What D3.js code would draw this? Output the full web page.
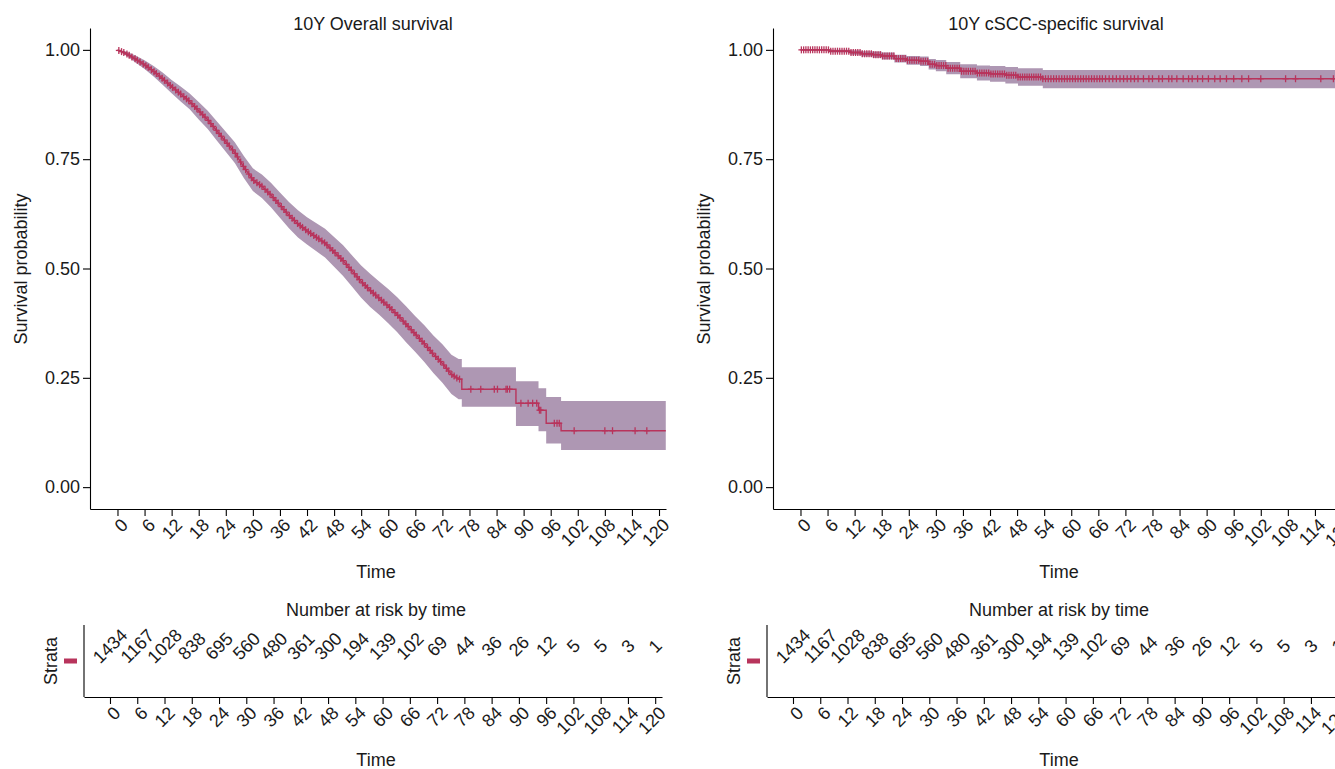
<!DOCTYPE html>
<html><head><meta charset="utf-8">
<script src="https://cdn.jsdelivr.net/npm/d3@7"></script>
<style>html,body{margin:0;padding:0;background:#fff;overflow:hidden}</style>
</head><body><svg id="c" width="1335" height="769"></svg>
<script>
// ---------- data ----------
const timeTicks = [0,6,12,18,24,30,36,42,48,54,60,66,72,78,84,90,96,102,108,114,120];
const yTicks = [0,0.25,0.5,0.75,1];
const riskN = [1434,1167,1028,838,695,560,480,361,300,194,139,102,69,44,36,26,12,5,5,3,1];

// Overall survival (piecewise readings; repeated times are vertical steps)
const osTime = [0,2,4,6,8,10,12,14,16,18,20,22,24,26,28,30,32,34,36,38,40,42,44,46,48,50,52,54,56,58,60,62,64,66,68,70,72,74,75.6,76.3,76.3,88.3,88.3,93.3,93.3,95.0,95.0,98.3,98.3,121.5];
const osSurv = [1.000,0.991,0.979,0.966,0.951,0.934,0.916,0.899,0.882,0.861,0.840,0.815,0.790,0.765,0.732,0.703,0.688,0.668,0.645,0.622,0.602,0.586,0.572,0.558,0.538,0.518,0.494,0.470,0.450,0.432,0.414,0.394,0.372,0.350,0.328,0.304,0.283,0.258,0.247,0.247,0.224,0.224,0.192,0.192,0.176,0.176,0.146,0.146,0.129,0.129];
const osUpper = [1.000,0.996,0.987,0.976,0.963,0.948,0.931,0.916,0.900,0.881,0.861,0.837,0.813,0.789,0.757,0.729,0.715,0.696,0.674,0.652,0.633,0.617,0.604,0.591,0.572,0.553,0.530,0.507,0.488,0.470,0.453,0.434,0.413,0.391,0.370,0.347,0.327,0.303,0.293,0.293,0.274,0.274,0.242,0.242,0.226,0.226,0.206,0.206,0.197,0.197];
const osLower = [1.000,0.986,0.971,0.956,0.939,0.920,0.901,0.882,0.864,0.841,0.819,0.793,0.767,0.741,0.707,0.677,0.661,0.640,0.616,0.592,0.571,0.555,0.540,0.525,0.504,0.483,0.458,0.433,0.412,0.394,0.375,0.354,0.331,0.309,0.286,0.261,0.239,0.213,0.201,0.201,0.184,0.184,0.140,0.140,0.128,0.128,0.100,0.100,0.085,0.085];
const osCensor = [0.3,0.9,1.4,2.1,2.6,3.2,3.9,4.4,5.0,5.7,6.3,6.8,7.5,8.1,8.6,9.3,9.9,10.4,11.1,11.7,12.2,12.9,13.5,14.0,14.7,15.3,15.8,16.5,17.1,17.6,18.3,18.9,19.4,20.1,20.7,21.2,21.9,22.5,23.0,23.7,24.3,24.8,25.5,26.1,26.6,27.3,27.9,28.4,29.1,29.7,30.2,30.9,31.5,32.0,32.7,33.3,33.8,34.5,35.1,35.6,36.3,36.9,37.4,38.1,38.7,39.2,39.9,40.5,41.0,41.7,42.3,42.8,43.5,44.1,44.6,45.3,45.9,46.4,47.1,47.7,48.2,48.9,49.5,50.0,50.7,51.3,51.8,52.5,53.1,53.6,54.3,54.9,55.4,56.1,56.7,57.2,57.9,58.5,59.0,59.7,60.3,60.8,61.5,62.1,62.6,63.3,63.9,64.4,65.1,65.7,66.2,66.9,67.5,68.0,68.7,69.3,69.8,70.5,71.1,71.6,72.3,72.9,73.4,74.1,74.6,75.2,75.8,78.3,80.5,83.5,84.2,86.1,86.4,86.9,89.4,91.0,92.0,92.9,93.5,93.8,96.8,97.4,97.9,101.2,108.0,109.7,114.7,117.3];

// cSCC-specific survival (step readings)
const cssTime = [0,6.3,11.0,13.5,16.0,18.0,20.8,23.5,26.5,28.4,30.0,32.3,35.4,39.1,42.0,45.4,48.2,53.7,121.5];
const cssSurv = [1.000,0.997,0.994,0.991,0.989,0.986,0.980,0.976,0.974,0.967,0.964,0.958,0.951,0.947,0.945,0.942,0.938,0.934,0.934];
const cssUpper = [1.000,1.000,0.999,0.997,0.996,0.994,0.989,0.986,0.985,0.979,0.977,0.972,0.967,0.964,0.963,0.961,0.958,0.954,0.954];
const cssLower = [1.000,0.994,0.989,0.985,0.982,0.978,0.971,0.966,0.963,0.955,0.951,0.944,0.935,0.930,0.927,0.923,0.918,0.912,0.912];
const cssCensor = [0.2,0.7,1.2,1.7,2.2,2.7,3.2,3.7,4.2,4.7,5.2,5.7,6.2,6.7,7.2,7.7,8.2,8.7,9.2,9.7,10.2,10.7,11.2,11.7,12.2,12.7,13.2,13.7,14.2,14.7,15.2,15.7,16.2,16.7,17.2,17.7,18.2,18.7,19.2,19.7,20.2,20.7,21.2,21.7,22.2,22.7,23.2,23.7,24.2,24.7,25.2,25.7,26.2,26.7,27.2,27.7,28.2,28.7,29.2,29.7,30.2,30.7,31.2,31.7,32.2,32.7,33.2,33.7,34.2,34.7,35.2,35.7,36.2,36.7,37.2,37.7,38.2,38.7,39.2,39.7,40.2,40.7,41.2,41.7,42.2,42.7,43.2,43.7,44.2,44.7,45.2,45.7,46.2,46.7,47.2,47.7,48.2,48.7,49.2,49.7,50.2,50.7,51.2,51.7,52.2,52.7,53.2,53.7,54.3,54.9,55.5,56.1,56.7,57.3,57.9,58.5,59.1,59.7,60.3,60.9,61.5,62.1,62.7,63.3,63.9,64.5,65.1,65.7,66.3,66.9,67.6,68.4,69.2,70.0,70.8,71.6,72.4,73.2,74.0,74.8,76.0,77.2,78.0,79.4,80.2,81.6,82.3,83.4,84.8,86.0,86.8,88.0,89.1,90.4,91.8,93.0,94.4,96.0,97.8,99.3,102.0,107.5,109.7,115.3,118.1];

// ---------- drawing ----------
const LINE = "#b8345c", BAND = "#ae97b3", TXT = "#1a1a1a";
const FONT = "'Liberation Sans', Arial, Helvetica, sans-serif";
const svg = d3.select("#c");

function valueAt(times, vals, t){
  // piecewise: last index with time<=t, linear to next if not a vertical step
  let i = d3.bisectRight(times, t) - 1;
  if (i < 0) return vals[0];
  if (i >= times.length - 1) return vals[times.length-1];
  const t0 = times[i], t1 = times[i+1];
  if (t1 === t0) return vals[i];
  return vals[i] + (vals[i+1]-vals[i]) * (t - t0)/(t1 - t0);
}
function stepAt(times, vals, t){
  let i = d3.bisectRight(times, t) - 1;
  return vals[Math.max(0,i)];
}

function panel(off, title, times, surv, lower, upper, censor, isStep){
  const g = svg.append("g").attr("transform", `translate(${off},0)`);
  const x = d3.scaleLinear().domain([-6.09, 121.55]).range([90, 666]);
  const y = d3.scaleLinear().domain([-0.05, 1.05]).range([509, 28]);
  const curve = isStep ? d3.curveStepAfter : d3.curveLinear;
  const idx = d3.range(times.length);

  g.append("path")
    .attr("d", d3.area().curve(curve).x(i=>x(times[i])).y0(i=>y(lower[i])).y1(i=>y(upper[i]))(idx))
    .attr("fill", BAND).attr("stroke","none");
  g.append("path")
    .attr("d", d3.line().curve(curve).x(i=>x(times[i])).y(i=>y(surv[i]))(idx))
    .attr("fill","none").attr("stroke", LINE).attr("stroke-width", 1.4);
  const cg = g.append("g").attr("stroke", LINE).attr("stroke-width", 1.3);
  censor.forEach(t=>{
    const v = isStep ? stepAt(times, surv, t) : valueAt(times, surv, t);
    const cx = x(t), cy = y(v);
    cg.append("line").attr("x1",cx).attr("x2",cx).attr("y1",cy-3.5).attr("y2",cy+3.5);
    cg.append("line").attr("x1",cx-3).attr("x2",cx+3).attr("y1",cy).attr("y2",cy);
  });

  // axes
  const ya = g.append("g").attr("transform","translate(90,0)")
    .call(d3.axisLeft(y).tickValues(yTicks).tickFormat(d3.format(".2f")).tickSize(7).tickSizeOuter(0));
  const xa = g.append("g").attr("transform","translate(0,509)")
    .call(d3.axisBottom(x).tickValues(timeTicks).tickSize(7).tickSizeOuter(0));
  [ya, xa].forEach(a=>{
    a.select(".domain").attr("stroke","#000").attr("stroke-width",1.1);
    a.selectAll(".tick line").attr("stroke","#000").attr("stroke-width",1.1);
    a.selectAll("text").attr("fill",TXT).style("font-family",FONT).style("font-size","18px");
  });
  ya.selectAll("text").attr("x",-10);
  xa.selectAll("text")
    .attr("text-anchor","end").attr("dy",null).attr("y",null)
    .attr("transform","translate(2,8) rotate(-45)")
    .attr("dy","0.72em");

  g.append("text").attr("x",373).attr("y",30).attr("text-anchor","middle")
    .style("font-family",FONT).style("font-size","18px").attr("fill",TXT).text(title);
  g.append("text").attr("x",376).attr("y",578).attr("text-anchor","middle")
    .style("font-family",FONT).style("font-size","18px").attr("fill",TXT).text("Time");
  g.append("text").attr("transform","translate(27,269) rotate(-90)").attr("text-anchor","middle")
    .style("font-family",FONT).style("font-size","18px").attr("fill",TXT).text("Survival probability");

  // risk table
  const xr = d3.scaleLinear().domain([-5.72, 121.5]).range([84, 662]);
  const yr = d3.scaleLinear().domain([0,1]).range([697, 625]);
  g.append("text").attr("x",376).attr("y",616).attr("text-anchor","middle")
    .style("font-family",FONT).style("font-size","18px").attr("fill",TXT).text("Number at risk by time");
  g.append("line").attr("x1",84).attr("x2",84).attr("y1",yr(1)).attr("y2",yr(0)).attr("stroke","#000").attr("stroke-width",1.1);
  const xra = g.append("g").attr("transform","translate(0,697)")
    .call(d3.axisBottom(xr).tickValues(timeTicks).tickSize(7).tickSizeOuter(0));
  xra.select(".domain").attr("stroke","#000").attr("stroke-width",1.1);
  xra.selectAll(".tick line").attr("stroke","#000").attr("stroke-width",1.1);
  xra.selectAll("text").attr("fill",TXT).style("font-family",FONT).style("font-size","18px")
    .attr("text-anchor","end").attr("y",null)
    .attr("transform","translate(2,8) rotate(-45)").attr("dy","0.72em");
  g.append("text").attr("x",376).attr("y",766).attr("text-anchor","middle")
    .style("font-family",FONT).style("font-size","18px").attr("fill",TXT).text("Time");
  g.append("text").attr("transform","translate(57,661) rotate(-90)").attr("text-anchor","middle")
    .style("font-family",FONT).style("font-size","18px").attr("fill",TXT).text("Strata");
  g.append("rect").attr("x",64).attr("y",658.5).attr("width",13).attr("height",5).attr("fill",LINE);
  timeTicks.forEach((t,i)=>{
    g.append("text").attr("transform",`translate(${xr(t)},646) rotate(-45)`)
      .attr("text-anchor","middle").attr("dy","0.35em")
      .style("font-family",FONT).style("font-size","18px").attr("fill",TXT).text(riskN[i]);
  });
}

panel(0, "10Y Overall survival", osTime, osSurv, osLower, osUpper, osCensor, false);
panel(683, "10Y cSCC-specific survival", cssTime, cssSurv, cssLower, cssUpper, cssCensor, true);
</script></body></html>
